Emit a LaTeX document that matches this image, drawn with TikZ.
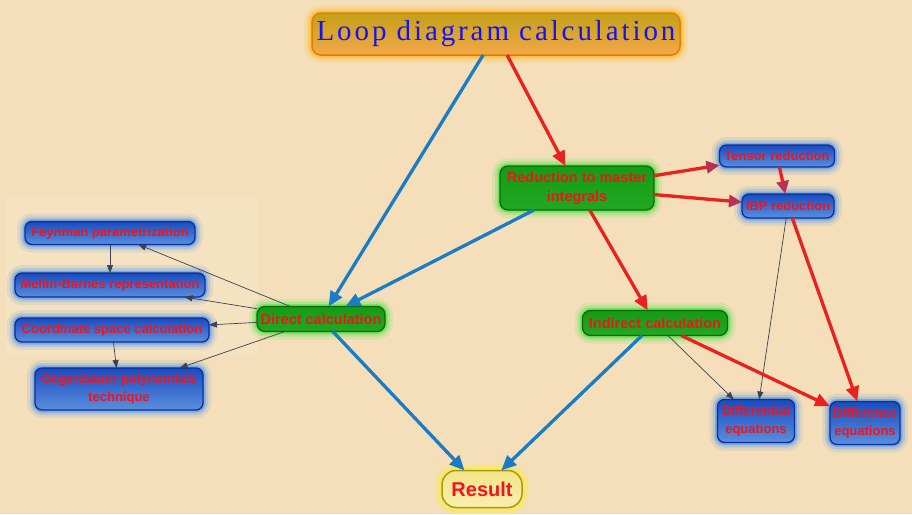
\documentclass[tikz,border=0pt]{standalone}
\usepackage{fontspec}
\setmainfont{Liberation Serif}
\newfontfamily\labfont{Liberation Sans}
\newfontfamily\ttlfont[LetterSpace=10]{Liberation Serif}
\usetikzlibrary{arrows.meta}
\definecolor{bgc}{HTML}{F4DFBA}
\definecolor{bgl}{HTML}{F5E2C1}
\definecolor{labred}{HTML}{F0141C}
\definecolor{ttlblue}{HTML}{1414F0}
\definecolor{bluetop}{HTML}{1A4CC0}
\definecolor{bluemid}{HTML}{3470D4}
\definecolor{bluebot}{HTML}{5A8EDC}
\definecolor{bluedark}{HTML}{0A2E9A}
\definecolor{blueglow}{HTML}{3A8AF0}
\definecolor{greentop}{HTML}{149C14}
\definecolor{greenmid}{HTML}{40C040}
\definecolor{greenbot}{HTML}{22A822}
\definecolor{greendark}{HTML}{0A6A0A}
\definecolor{greenglow}{HTML}{30E030}
\definecolor{ttltop}{HTML}{C4A018}
\definecolor{ttlbot}{HTML}{F4A848}
\definecolor{ttldark}{HTML}{E08000}
\definecolor{ttlglow}{HTML}{FFB000}
\definecolor{restop}{HTML}{F4E488}
\definecolor{resbot}{HTML}{F8EEB0}
\definecolor{resdark}{HTML}{A89A10}
\definecolor{resglow}{HTML}{FFF020}
\definecolor{arrblue}{HTML}{1A7CC4}
\definecolor{arrred}{HTML}{E8231F}
\definecolor{arrpurp}{HTML}{B83058}
\definecolor{arrthin}{HTML}{3C4050}
\tikzset{
  glowbox/.style={preaction={draw=#1,line width=16pt,opacity=0.12},
                  preaction={draw=#1,line width=10pt,opacity=0.22},
                  preaction={draw=#1,line width=5pt,opacity=0.45}},
  basebox/.style={rectangle,inner sep=0pt,outer sep=0pt,align=center,text=labred},
  bluebox/.style={basebox,rounded corners=7pt,top color=bluetop,middle color=bluemid,bottom color=bluebot,
                  draw=bluedark,line width=1.3pt,glowbox=blueglow,
                  font=\labfont\bfseries\fontsize{13}{17.5}\selectfont},
  greenbox/.style={basebox,rounded corners=8pt,top color=greentop,middle color=greenmid,bottom color=greenbot,
                  draw=greendark,line width=1.3pt,glowbox=greenglow,
                  font=\labfont\bfseries\fontsize{14.5}{19}\selectfont},
  titlebox/.style={basebox,rounded corners=9pt,top color=ttltop,bottom color=ttlbot,
                  draw=ttldark,line width=1.5pt,glowbox=ttlglow,text=ttlblue,
                  font=\ttlfont\fontsize{29}{32}\selectfont},
  resbox/.style={basebox,rounded corners=14pt,top color=restop,bottom color=resbot,
                  draw=resdark,line width=1.5pt,glowbox=resglow,
                  font=\labfont\bfseries\fontsize{20}{22}\selectfont},
  bluearr/.style={draw=arrblue,line width=3.3pt,-{Triangle[length=15pt,width=13pt]}},
  redarr/.style={draw=arrred,line width=3.3pt,-{Triangle[length=15pt,width=13pt]}},
  purparr/.style={draw=arrred,line width=3.3pt,-{Triangle[length=13pt,width=12pt,color=arrpurp]}},
  thinarr/.style={draw=arrthin,line width=0.7pt,-{Triangle[length=8pt,width=6pt]}}
}
\begin{document}
\begin{tikzpicture}[x=1pt,y=-1pt]
\fill[bgc] (0,0) rectangle (912,514);
\useasboundingbox (0,0) rectangle (912,514);
\fill[bgl] (6,198) rectangle (258,356);

\node[titlebox,minimum width=368,minimum height=42] (title) at (496,34) {Loop diagram calculation};
\node[greenbox,minimum width=154,minimum height=44] (red) at (577,188) {Reduction to master\\integrals};
\node[bluebox,minimum width=115,minimum height=22] (tensor) at (777,156) {Tensor reduction};
\node[bluebox,minimum width=92,minimum height=24] (ibp) at (788,206) {IBP reduction};
\node[bluebox,minimum width=170,minimum height=23] (feyn) at (110,233) {Feynman parametrization};
\node[bluebox,minimum width=190,minimum height=24] (mellin) at (110,285) {Mellin-Barnes representation};
\node[bluebox,minimum width=194,minimum height=24] (coord) at (112,330) {Coordinate space calculation};
\node[bluebox,minimum width=168,minimum height=42] (gegen) at (119,389) {Gegenbauer polynomials\\technique};
\node[greenbox,minimum width=128,minimum height=25] (direct) at (321,319) {Direct calculation};
\node[greenbox,minimum width=145,minimum height=25] (indirect) at (655,323) {Indirect calculation};
\node[bluebox,minimum width=77,minimum height=43] (diffeq) at (756,421) {Differential\\equations};
\node[bluebox,minimum width=70,minimum height=43] (diffce) at (865,423) {Difference\\equations};
\node[resbox,minimum width=80,minimum height=37] (result) at (482,489) {Result};

\draw[bluearr] (title) -- (direct);
\draw[redarr] (title) -- (red);
\draw[bluearr] (red) -- (direct);
\draw[purparr] (red) -- (tensor);
\draw[purparr] (red) -- (ibp);
\draw[purparr] (tensor) -- (ibp);
\draw[redarr] (red) -- (indirect);
\draw[thinarr] (ibp) -- (diffeq);
\draw[redarr] (ibp) -- (diffce);
\draw[thinarr] (indirect) -- (diffeq);
\draw[redarr] (indirect) -- (diffce);
\draw[bluearr] (indirect) -- (result);
\draw[bluearr] (direct) -- (result);
\draw[thinarr] (direct) -- (feyn);
\draw[thinarr] (direct) -- (mellin);
\draw[thinarr] (direct) -- (coord);
\draw[thinarr] (direct) -- (gegen);
\draw[thinarr] (feyn) -- (mellin);
\draw[thinarr] (coord) -- (gegen);
\end{tikzpicture}
\end{document}
